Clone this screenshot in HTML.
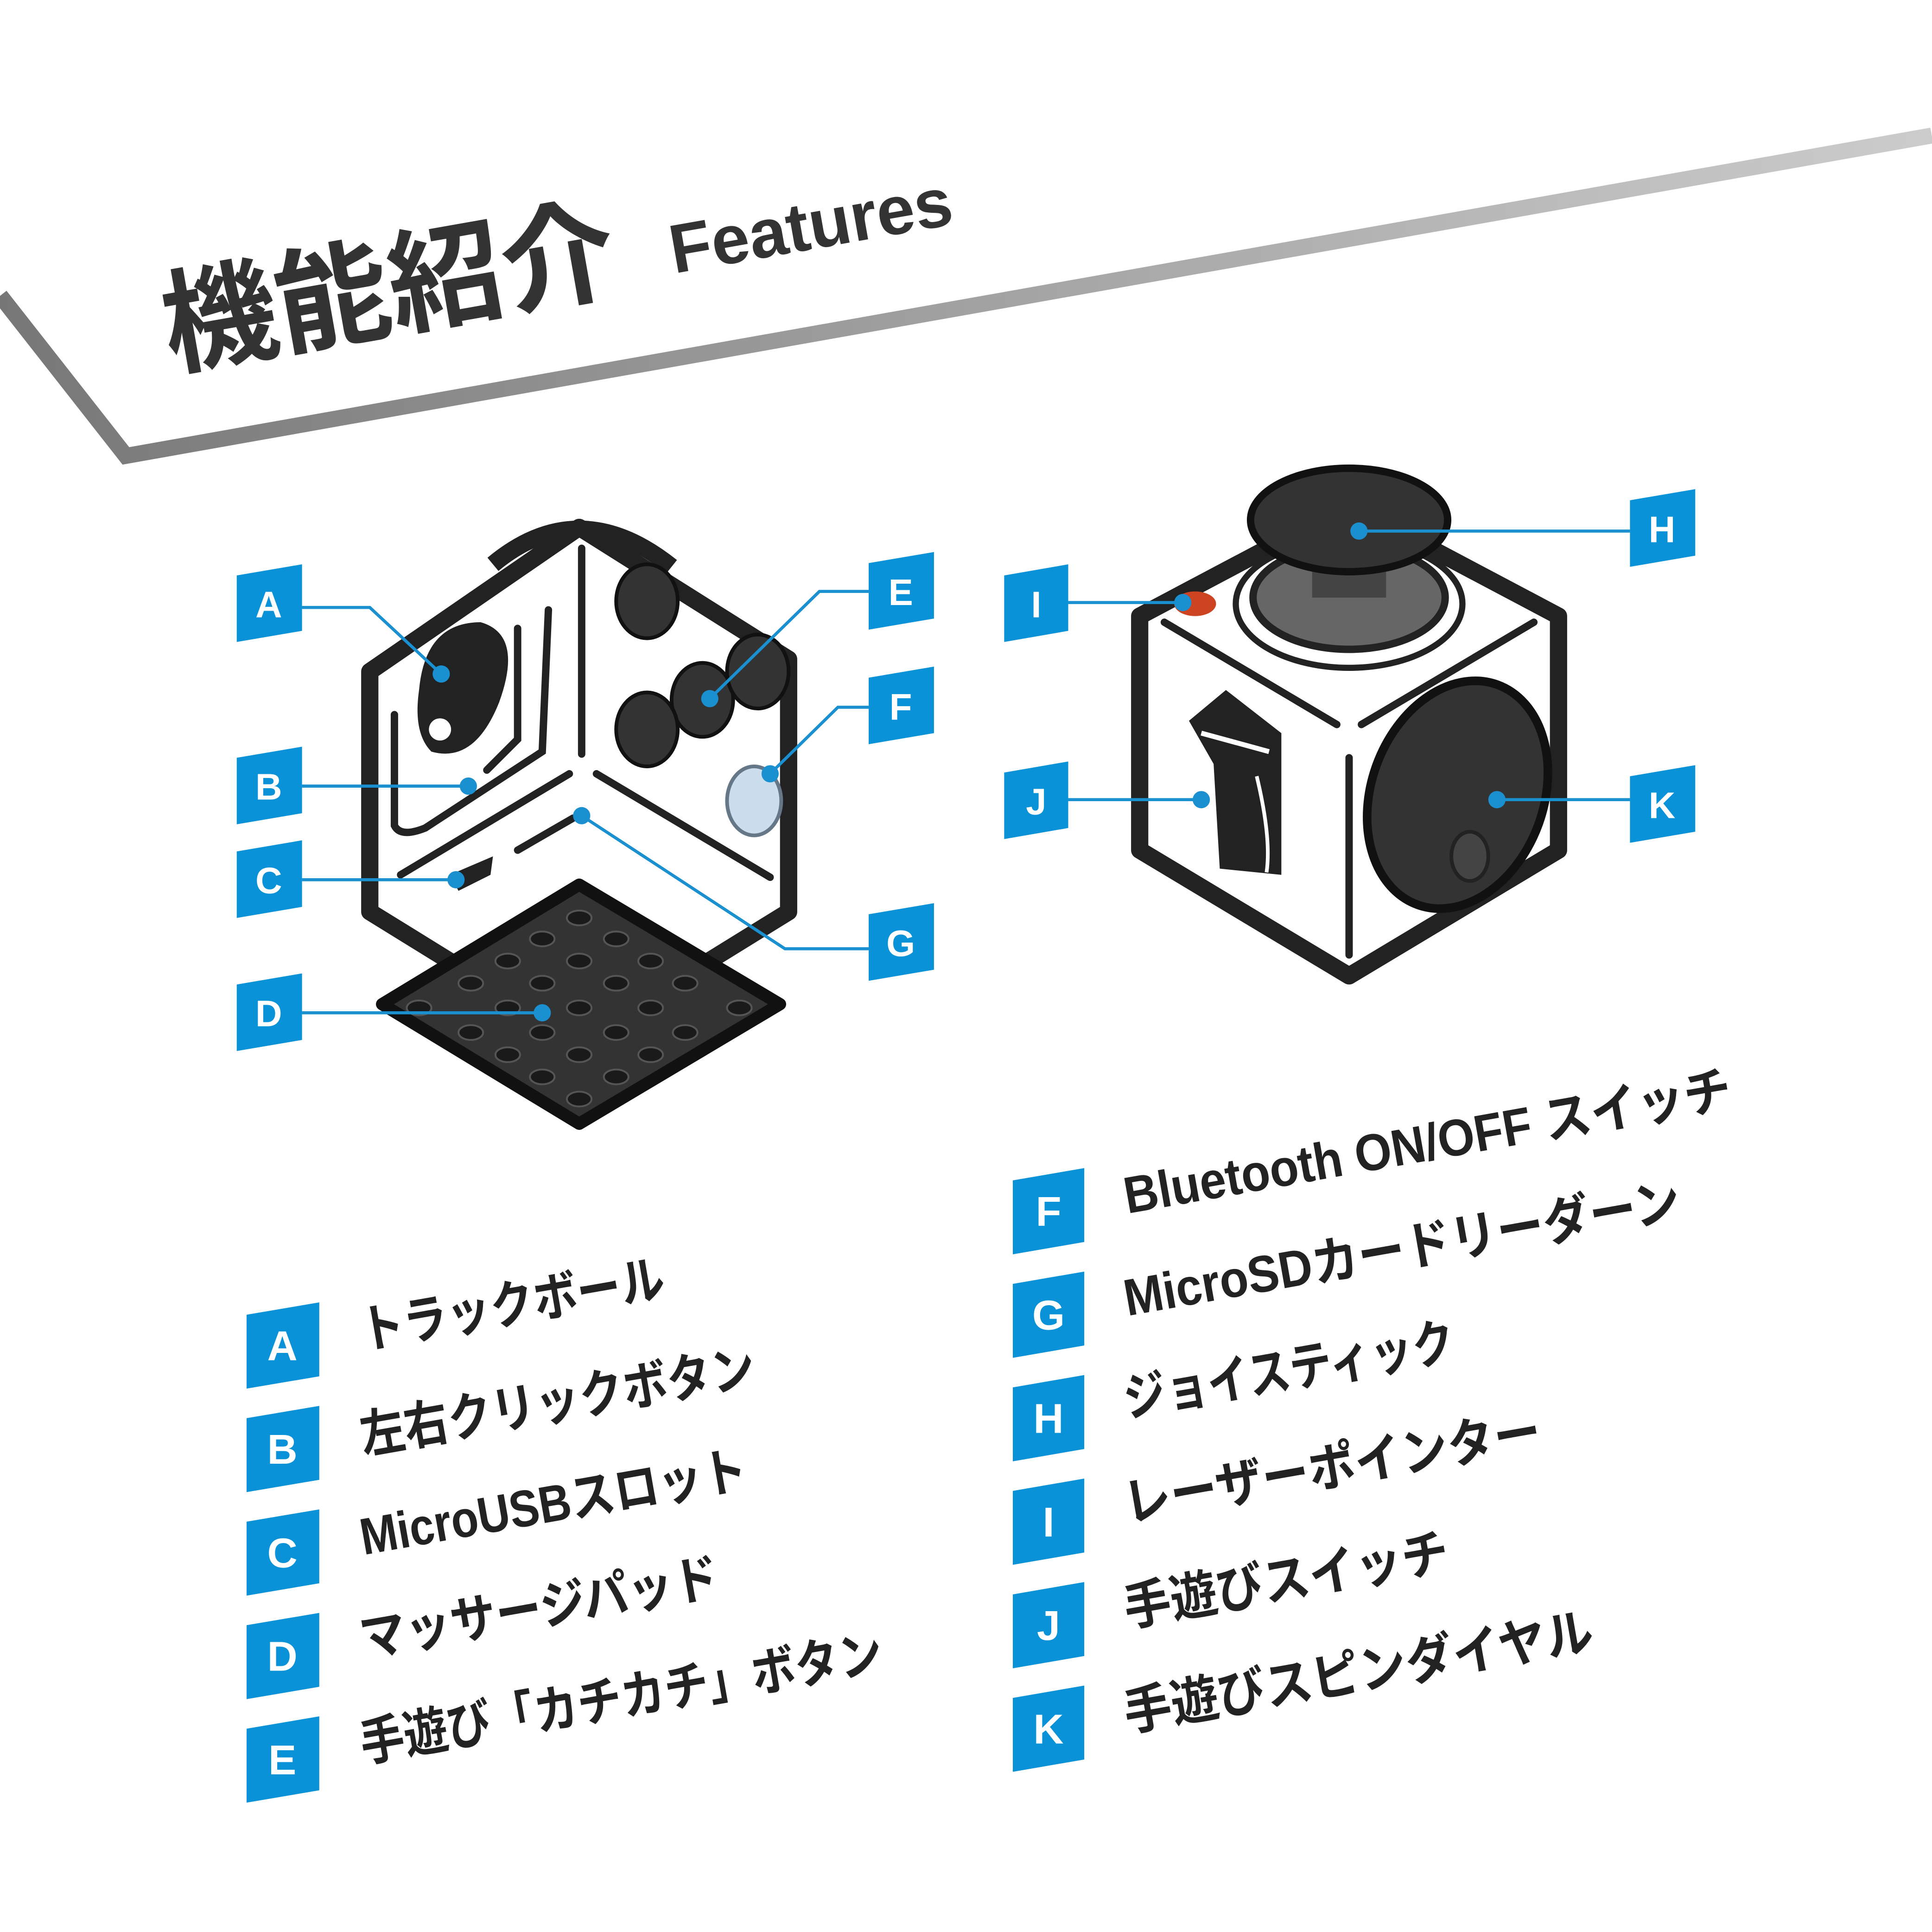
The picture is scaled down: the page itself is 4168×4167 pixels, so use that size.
<!DOCTYPE html>
<html><head><meta charset="utf-8"><style>
html,body{margin:0;padding:0;background:#fff;}
svg{display:block;}
text{font-family:"Liberation Sans","Noto Sans CJK JP",sans-serif;font-weight:bold;}
</style></head><body>
<svg width="4168" height="4167" viewBox="0 0 1568 1568" xmlns="http://www.w3.org/2000/svg">
<defs>
<linearGradient id="g" x1="0" x2="1"><stop offset="0" stop-color="#777"/><stop offset="1" stop-color="#ccc"/></linearGradient>
</defs>
<rect width="1568" height="1568" fill="#fff"/>
<polyline points="0,240 102,370 1568,110" fill="none" stroke="url(#g)" stroke-width="13"/>
<text x="138" y="298" font-size="92" fill="#333" textLength="372" lengthAdjust="spacingAndGlyphs" transform="rotate(-10 138 298)">機能紹介</text>
<text x="547" y="222" font-size="56" fill="#333" textLength="232" lengthAdjust="spacingAndGlyphs" transform="rotate(-10 547 222)">Features</text>

<!-- left cube -->
<g stroke="#222" stroke-width="14" stroke-linejoin="round" fill="#fff">
<path d="M470,428 L640,535 L640,740 L470,845 L300,740 L300,545 Z"/>
</g>
<path d="M400,458 Q470,400 545,460" fill="none" stroke="#222" stroke-width="14"/>
<g stroke="#222" stroke-width="6" fill="none" stroke-linecap="round">
<line x1="472" y1="445" x2="472" y2="612"/>
<line x1="462" y1="628" x2="325" y2="710"/>
<line x1="484" y1="628" x2="625" y2="712"/>
<line x1="420" y1="690" x2="465" y2="664"/>
<path d="M320,580 L320,670 Q325,680 345,672 L440,610 L445,495"/>
<path d="M420,510 L420,600 L395,625"/>
</g>
<path d="M340,560 Q345,505 390,505 Q425,515 405,570 Q385,620 350,610 Q335,595 340,560Z" fill="#222"/>
<circle cx="357" cy="592" r="9" fill="#fff"/>
<g fill="#333" stroke="#111" stroke-width="3">
<ellipse cx="525" cy="488" rx="25" ry="30"/>
<ellipse cx="570" cy="568" rx="25" ry="30"/>
<ellipse cx="525" cy="592" rx="25" ry="30"/>
<ellipse cx="615" cy="545" rx="25" ry="30"/>
</g>
<ellipse cx="612" cy="650" rx="22" ry="28" fill="#cde" stroke="#678" stroke-width="3"/>
<path d="M365,710 L400,695 L398,710 L372,723 Z" fill="#222"/>
<!-- pad -->
<path d="M310,815 L470,718 L633,815 L470,912 Z" fill="#333" stroke="#111" stroke-width="10" stroke-linejoin="round"/>
<g fill="#1a1a1a" stroke="#555" stroke-width="1.5">
<ellipse cx="470" cy="745" rx="10" ry="6"/>
<ellipse cx="440" cy="762" rx="10" ry="6"/><ellipse cx="500" cy="762" rx="10" ry="6"/>
<ellipse cx="412" cy="780" rx="10" ry="6"/><ellipse cx="470" cy="780" rx="10" ry="6"/><ellipse cx="528" cy="780" rx="10" ry="6"/>
<ellipse cx="382" cy="798" rx="10" ry="6"/><ellipse cx="440" cy="798" rx="10" ry="6"/><ellipse cx="500" cy="798" rx="10" ry="6"/><ellipse cx="556" cy="798" rx="10" ry="6"/>
<ellipse cx="340" cy="818" rx="10" ry="6"/><ellipse cx="412" cy="818" rx="10" ry="6"/><ellipse cx="470" cy="818" rx="10" ry="6"/><ellipse cx="528" cy="818" rx="10" ry="6"/><ellipse cx="600" cy="818" rx="10" ry="6"/>
<ellipse cx="382" cy="838" rx="10" ry="6"/><ellipse cx="440" cy="838" rx="10" ry="6"/><ellipse cx="500" cy="838" rx="10" ry="6"/><ellipse cx="556" cy="838" rx="10" ry="6"/>
<ellipse cx="412" cy="856" rx="10" ry="6"/><ellipse cx="470" cy="856" rx="10" ry="6"/><ellipse cx="528" cy="856" rx="10" ry="6"/>
<ellipse cx="440" cy="874" rx="10" ry="6"/><ellipse cx="500" cy="874" rx="10" ry="6"/>
<ellipse cx="470" cy="892" rx="10" ry="6"/>
</g>

<!-- right cube -->
<path d="M1095,410 L1265,500 L1265,690 L1095,792 L925,690 L925,500 Z" fill="#fff" stroke="#222" stroke-width="14" stroke-linejoin="round"/>
<g stroke="#222" stroke-width="6" fill="none" stroke-linecap="round">
<line x1="945" y1="505" x2="1085" y2="588"/>
<line x1="1105" y1="588" x2="1245" y2="505"/>
<line x1="1095" y1="615" x2="1095" y2="775"/>
</g>
<ellipse cx="1095" cy="490" rx="92" ry="52" fill="#fff" stroke="#222" stroke-width="5"/>
<ellipse cx="1095" cy="485" rx="78" ry="42" fill="#666" stroke="#222" stroke-width="6"/>
<rect x="1065" y="440" width="60" height="45" fill="#444"/>
<ellipse cx="1095" cy="422" rx="80" ry="42" fill="#333" stroke="#111" stroke-width="6"/>
<ellipse cx="970" cy="490" rx="17" ry="10" fill="#c42"/>
<path d="M965,585 L995,560 L1040,595 L1040,710 L990,705 L985,620 Z" fill="#222"/>
<path d="M975,595 L1030,610" stroke="#fff" stroke-width="4"/>
<path d="M1020,630 Q1032,680 1028,708" stroke="#fff" stroke-width="3" fill="none"/>
<ellipse cx="1183" cy="645" rx="70" ry="95" transform="rotate(20 1183 645)" fill="#333" stroke="#111" stroke-width="7"/>
<ellipse cx="1193" cy="695" rx="15" ry="20" fill="#444" stroke="#222" stroke-width="3"/>

<!-- callout lines -->
<g stroke="#1a90d0" stroke-width="2.5" fill="none">
<polyline points="245,493 300,493 358,547"/>
<line x1="245" y1="638" x2="380" y2="638"/>
<line x1="245" y1="714" x2="370" y2="714"/>
<line x1="245" y1="822" x2="440" y2="822"/>
<polyline points="705,480 665,480 576,567"/>
<polyline points="705,574 680,574 625,628"/>
<polyline points="705,770 637,770 472,662"/>
<line x1="867" y1="489" x2="960" y2="489"/>
<line x1="867" y1="649" x2="975" y2="649"/>
<line x1="1323" y1="431" x2="1103" y2="431"/>
<line x1="1323" y1="649" x2="1215" y2="649"/>
</g>
<g fill="#1a90d0">
<circle cx="358" cy="547" r="7"/><circle cx="380" cy="638" r="7"/><circle cx="370" cy="714" r="7"/><circle cx="440" cy="822" r="7"/>
<circle cx="576" cy="567" r="7"/><circle cx="625" cy="628" r="7"/><circle cx="472" cy="662" r="7"/>
<circle cx="960" cy="489" r="7"/><circle cx="975" cy="649" r="7"/><circle cx="1103" cy="431" r="7"/><circle cx="1215" cy="649" r="7"/>
</g>

<!-- callout boxes -->
<g fill="#0a92d8">
<polygon points="192,467 245,458 245,512 192,521"/>
<polygon points="192,615 245,606 245,660 192,669"/>
<polygon points="192,691 245,682 245,736 192,745"/>
<polygon points="192,799 245,790 245,844 192,853"/>
<polygon points="705,457 758,448 758,502 705,511"/>
<polygon points="705,550 758,541 758,595 705,604"/>
<polygon points="705,742 758,733 758,787 705,796"/>
<polygon points="815,467 867,458 867,512 815,521"/>
<polygon points="815,627 867,618 867,672 815,681"/>
<polygon points="1323,406 1376,397 1376,451 1323,460"/>
<polygon points="1323,630 1376,621 1376,675 1323,684"/>
</g>
<g fill="#fff" font-size="30" text-anchor="middle">
<text x="218" y="501">A</text><text x="218" y="649">B</text><text x="218" y="725">C</text><text x="218" y="833">D</text>
<text x="731" y="491">E</text><text x="731" y="584">F</text><text x="731" y="776">G</text>
<text x="841" y="501">I</text><text x="841" y="661">J</text><text x="1349" y="440">H</text><text x="1349" y="664">K</text>
</g>

<!-- list boxes -->
<g fill="#0a92d8">
<polygon points="200,1067 259,1057 259,1117 200,1127"/>
<polygon points="200,1151 259,1141 259,1201 200,1211"/>
<polygon points="200,1235 259,1225 259,1285 200,1295"/>
<polygon points="200,1319 259,1309 259,1369 200,1379"/>
<polygon points="200,1403 259,1393 259,1453 200,1463"/>
<polygon points="822,958 880,948 880,1008 822,1018"/>
<polygon points="822,1042 880,1032 880,1092 822,1102"/>
<polygon points="822,1126 880,1116 880,1176 822,1186"/>
<polygon points="822,1210 880,1200 880,1260 822,1270"/>
<polygon points="822,1294 880,1284 880,1344 822,1354"/>
<polygon points="822,1378 880,1368 880,1428 822,1438"/>
</g>
<g fill="#fff" font-size="34" text-anchor="middle">
<text x="229" y="1104">A</text><text x="229" y="1188">B</text><text x="229" y="1272">C</text><text x="229" y="1356">D</text><text x="229" y="1440">E</text>
<text x="851" y="995">F</text><text x="851" y="1079">G</text><text x="851" y="1163">H</text><text x="851" y="1247">I</text><text x="851" y="1331">J</text><text x="851" y="1415">K</text>
</g>
<g fill="#222" font-size="42" lengthAdjust="spacingAndGlyphs">
<text x="295" y="1095" textLength="250" lengthAdjust="spacingAndGlyphs" transform="rotate(-10 295 1095)">トラックボール</text>
<text x="295" y="1180" textLength="325" lengthAdjust="spacingAndGlyphs" transform="rotate(-10 295 1180)">左右クリックボタン</text>
<text x="295" y="1262" textLength="318" lengthAdjust="spacingAndGlyphs" transform="rotate(-10 295 1262)">MicroUSBスロット</text>
<text x="295" y="1345" textLength="295" lengthAdjust="spacingAndGlyphs" transform="rotate(-10 295 1345)">マッサージパッド</text>
<text x="295" y="1430" textLength="430" lengthAdjust="spacingAndGlyphs" transform="rotate(-10 295 1430)">手遊び「カチカチ」ボタン</text>
<text x="915" y="985" textLength="500" lengthAdjust="spacingAndGlyphs" transform="rotate(-10 915 985)">Bluetooth ON/OFF スイッチ</text>
<text x="915" y="1068" textLength="458" lengthAdjust="spacingAndGlyphs" transform="rotate(-10 915 1068)">MicroSDカードリーダーン</text>
<text x="915" y="1150" textLength="272" lengthAdjust="spacingAndGlyphs" transform="rotate(-10 915 1150)">ジョイスティック</text>
<text x="915" y="1235" textLength="343" lengthAdjust="spacingAndGlyphs" transform="rotate(-10 915 1235)">レーザーポインター</text>
<text x="915" y="1320" textLength="267" lengthAdjust="spacingAndGlyphs" transform="rotate(-10 915 1320)">手遊びスイッチ</text>
<text x="915" y="1405" textLength="386" lengthAdjust="spacingAndGlyphs" transform="rotate(-10 915 1405)">手遊びスピンダイヤル</text>
</g>
</svg>
</body></html>
